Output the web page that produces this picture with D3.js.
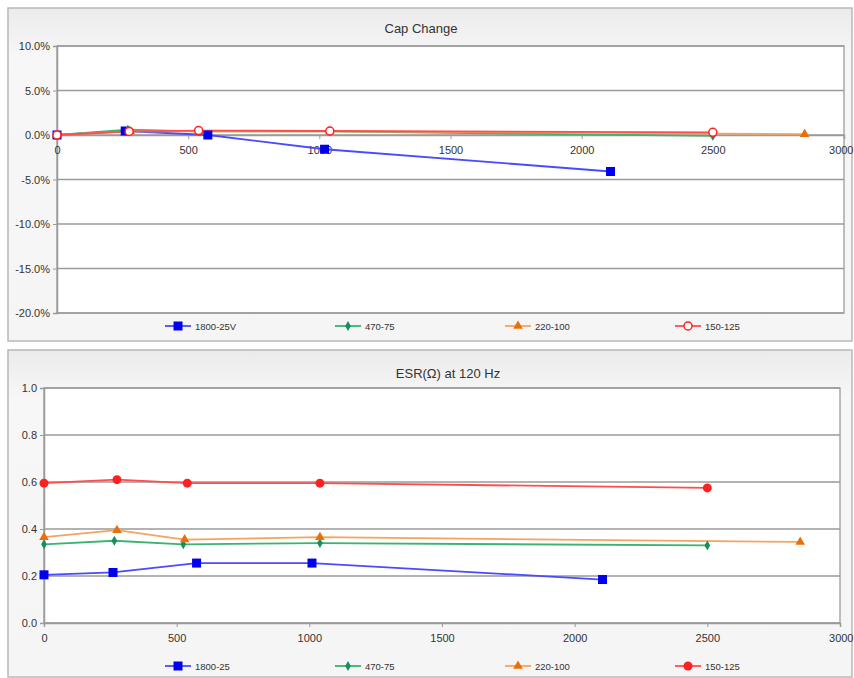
<!DOCTYPE html>
<html>
<head>
<meta charset="utf-8">
<script src="https://cdn.jsdelivr.net/npm/d3@7"></script>
<style>
  body { margin: 0; background: #fff; }
  text { font-family: "Liberation Sans Narrow", "Liberation Sans", Arial, sans-serif; fill: #333; }
</style>
</head>
<body>
<div id="chart"></div>
<script>
// hours on test
var capSeries = ["1800-25V", "470-75", "220-100", "150-125"];
var esrSeries = ["1800-25", "470-75", "220-100", "150-125"];

// Cap change (%) per series
var capX1800 = [0, 260, 575, 1020, 2110];
var capY1800 = [0.0, 0.45, 0.0, -1.6, -4.1];
var capX470 = [0, 270, 540, 1040, 2500];
var capY470 = [0.0, 0.6, 0.4, 0.4, -0.1];
var capX220 = [0, 280, 540, 1040, 2850];
var capY220 = [0.0, 0.4, 0.4, 0.4, 0.1];
var capX150 = [0, 275, 540, 1040, 2500];
var capY150 = [0.0, 0.4, 0.5, 0.45, 0.3];

// ESR (ohm) per series
var esrX1800 = [0, 260, 575, 1010, 2105];
var esrY1800 = [0.205, 0.215, 0.255, 0.255, 0.185];
var esrX470 = [0, 265, 525, 1040, 2500];
var esrY470 = [0.335, 0.35, 0.335, 0.34, 0.33];
var esrX220 = [0, 275, 530, 1040, 2850];
var esrY220 = [0.365, 0.395, 0.355, 0.365, 0.345];
var esrX150 = [0, 275, 540, 1040, 2500];
var esrY150 = [0.595, 0.61, 0.595, 0.595, 0.575];

var xTicks = [0, 500, 1000, 1500, 2000, 2500, 3000];
var capTicks = [10, 5, 0, -5, -10, -15, -20];
var esrTicks = [0, 0.2, 0.4, 0.6, 0.8, 1.0];

var lineColors = ["#4a4aff", "#3cb371", "#f4a460", "#ff4d4d"];
var markColors = ["#0000ee", "#14915a", "#e8700a", "#ff2020"];

function zip(xs, ys) {
  return xs.map(function(x, i) { return { x: x, y: ys[i] }; });
}

var svg = d3.select("#chart").append("svg")
  .attr("width", 854)
  .attr("height", 678);

var defs = svg.append("defs");
var grad = defs.append("linearGradient").attr("id", "panelGrad")
  .attr("x1", 0).attr("y1", 0).attr("x2", 0).attr("y2", 1);
grad.append("stop").attr("offset", "0%").attr("stop-color", "#ebebeb");
grad.append("stop").attr("offset", "15%").attr("stop-color", "#f7f7f7");
grad.append("stop").attr("offset", "100%").attr("stop-color", "#f5f5f5");

function marker(g, type, x, y, i) {
  if (type === "square") {
    g.append("rect").attr("x", x - 4.5).attr("y", y - 4.5).attr("width", 9).attr("height", 9)
      .attr("fill", markColors[i]);
  } else if (type === "diamond") {
    g.append("path").attr("d", d3.symbol().type(d3.symbolDiamond).size(28)())
      .attr("transform", "translate(" + x + "," + y + ")")
      .attr("fill", markColors[i]);
  } else if (type === "triangle") {
    g.append("path").attr("d", d3.symbol().type(d3.symbolTriangle).size(40)())
      .attr("transform", "translate(" + x + "," + y + ")")
      .attr("fill", markColors[i]);
  } else if (type === "open") {
    g.append("circle").attr("cx", x).attr("cy", y).attr("r", 4)
      .attr("fill", "#fff").attr("stroke", markColors[i]).attr("stroke-width", 1.5);
  } else {
    g.append("circle").attr("cx", x).attr("cy", y).attr("r", 4.5)
      .attr("fill", markColors[i]);
  }
}

function drawPanel(opt) {
  // panel background
  svg.append("rect")
    .attr("x", 8).attr("y", opt.panelTop)
    .attr("width", 844).attr("height", opt.panelBottom - opt.panelTop)
    .attr("fill", "url(#panelGrad)")
    .attr("stroke", "#b8b8b8").attr("stroke-width", 1.5);

  var x = d3.scaleLinear().domain([0, 3000]).range([opt.left, opt.right]);
  var y = d3.scaleLinear().domain(opt.yDomain).range([opt.bottom, opt.top]);

  svg.append("rect")
    .attr("x", opt.left).attr("y", opt.top)
    .attr("width", opt.right - opt.left).attr("height", opt.bottom - opt.top)
    .attr("fill", "#fff").attr("stroke", "#a8a8a8").attr("stroke-width", 1.5);

  // horizontal gridlines
  svg.append("g").selectAll("line").data(opt.yTicks).enter().append("line")
    .attr("x1", opt.left).attr("x2", opt.right)
    .attr("y1", function(d) { return y(d); })
    .attr("y2", function(d) { return y(d); })
    .attr("stroke", "#9a9a9a").attr("stroke-width", 1.5);

  // y axis
  var yAxis = d3.axisLeft(y).tickValues(opt.yTicks).tickSize(4).tickFormat(opt.yFormat);
  var gy = svg.append("g").attr("transform", "translate(" + opt.left + ",0)").call(yAxis);
  gy.select(".domain").attr("stroke", "#9a9a9a").attr("stroke-width", 1.5);
  gy.selectAll(".tick line").attr("stroke", "#9a9a9a");
  gy.selectAll("text").style("font-size", "11px").attr("fill", "#333").attr("x", -7);

  // x axis sits on y = 0
  var xAxis = d3.axisBottom(x).tickValues(xTicks).tickSize(4).tickFormat(d3.format("d"));
  var gx = svg.append("g").attr("transform", "translate(0," + y(0) + ")").call(xAxis);
  gx.select(".domain").attr("stroke", "#9a9a9a").attr("stroke-width", 1.5);
  gx.selectAll(".tick line").attr("stroke", "#9a9a9a");
  gx.selectAll("text").style("font-size", "11px").attr("fill", "#333").attr("y", 11);
  // keep the last label inside the page
  gx.selectAll(".tick text").filter(function(d) { return d === 3000; })
    .attr("text-anchor", "end").attr("x", 853 - opt.right);

  // title
  svg.append("text")
    .attr("x", opt.titleX).attr("y", opt.titleY)
    .attr("text-anchor", "middle")
    .style("font-size", "13px")
    .text(opt.title);

  // series lines + markers
  var line = d3.line()
    .x(function(d) { return x(d.x); })
    .y(function(d) { return y(d.y); });

  opt.data.forEach(function(s, i) {
    svg.append("path").datum(s)
      .attr("fill", "none")
      .attr("stroke", lineColors[i])
      .attr("stroke-width", 1.8)
      .attr("d", line);
  });
  opt.data.forEach(function(s, i) {
    var g = svg.append("g");
    s.forEach(function(d) { marker(g, opt.markers[i], x(d.x), y(d.y), i); });
  });

  // legend
  var legendX = [165, 335, 505, 675];
  opt.names.forEach(function(name, i) {
    var g = svg.append("g").attr("transform", "translate(" + legendX[i] + "," + opt.legendY + ")");
    g.append("line").attr("x1", 0).attr("x2", 26).attr("y1", 0).attr("y2", 0)
      .attr("stroke", lineColors[i]).attr("stroke-width", 1.8);
    marker(g, opt.markers[i], 13, 0, i);
    g.append("text").attr("x", 30).attr("y", 3.5)
      .style("font-size", "9.5px").text(name);
  });
}

drawPanel({
  panelTop: 8, panelBottom: 341,
  left: 57, right: 844, top: 46, bottom: 313,
  yDomain: [-20, 10], yTicks: capTicks,
  yFormat: function(d) { return d.toFixed(1) + "%"; },
  title: "Cap Change", titleX: 421, titleY: 33,
  names: capSeries,
  markers: ["square", "diamond", "triangle", "open"],
  data: [zip(capX1800, capY1800), zip(capX470, capY470), zip(capX220, capY220), zip(capX150, capY150)],
  legendY: 326
});

drawPanel({
  panelTop: 350, panelBottom: 677,
  left: 44, right: 840, top: 388, bottom: 623,
  yDomain: [0, 1], yTicks: esrTicks,
  yFormat: d3.format(".1f"),
  title: "ESR(\u03A9) at 120 Hz", titleX: 448, titleY: 378,
  names: esrSeries,
  markers: ["square", "diamond", "triangle", "filled"],
  data: [zip(esrX1800, esrY1800), zip(esrX470, esrY470), zip(esrX220, esrY220), zip(esrX150, esrY150)],
  legendY: 666
});
</script>
</body>
</html>
